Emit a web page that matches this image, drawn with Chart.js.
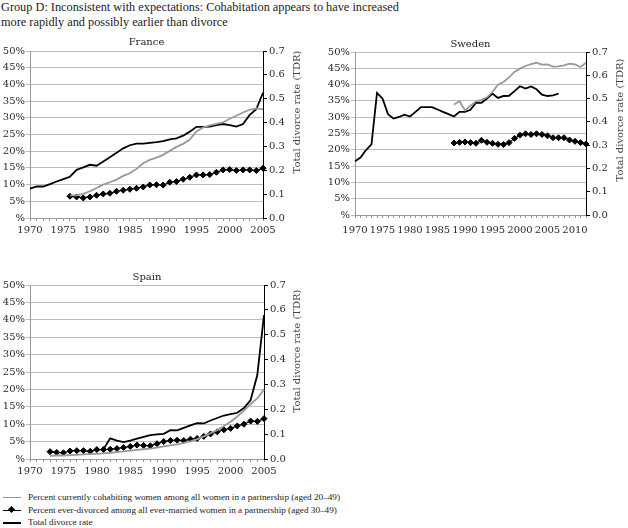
<!DOCTYPE html>
<html>
<head>
<meta charset="utf-8">
<script src="https://cdn.jsdelivr.net/npm/chart.js@4.4.1/dist/chart.umd.min.js"></script>
<style>
  body { margin: 0; background: #fff; width: 628px; height: 528px; position: relative; overflow: hidden; font-family: "Liberation Serif", serif; color: #222; }
  .title { position: absolute; left: 1px; top: 0px; font-size: 12.3px; line-height: 15px; white-space: nowrap; }
  canvas { position: absolute; }
  .legend { position: absolute; left: 2px; top: 491px; font-size: 9.2px; line-height: 12.5px; white-space: nowrap; }
  .legend div { position: relative; padding-left: 26px; }
  .legend i { position: absolute; left: 1px; top: 6px; width: 18px; height: 0; border-top: 1.5px solid #000; }
  .legend i.gray { border-top-color: #999; }
  .legend b { position: absolute; left: 7px; top: 3px; width: 5px; height: 5px; background: #000; transform: rotate(45deg); }
</style>
</head>
<body>
<div class="title">Group D: Inconsistent with expectations: Cohabitation appears to have increased<br>more rapidly and possibly earlier than divorce</div>

<canvas id="france" width="305" height="218" style="left:0;top:30px"></canvas>
<canvas id="sweden" width="318" height="218" style="left:310px;top:30px"></canvas>
<canvas id="spain" width="305" height="218" style="left:0;top:266px"></canvas>

<div class="legend">
  <div><i class="gray"></i>Percent currently cohabiting women among all women in a partnership (aged 20–49)</div>
  <div><i style="border-top-width:1px"></i><b></b>Percent ever-divorced among all ever-married women in a partnership (aged 30–49)</div>
  <div><i style="border-top-width:2px"></i>Total divorce rate</div>
</div>

<script>
// years shown on each x axis
const franceYears = range(1970, 2005);
const swedenYears = range(1970, 2012);
const spainYears = range(1970, 2005);

// France (percent values start at the given year, TDR is per woman)
const franceCohabStart = 1976;
const franceCohab = [6.8, 6.8, 7.2, 8.0, 9.0, 10.0, 10.7, 11.5, 12.6, 13.4, 14.7, 16.4, 17.4, 18.1, 18.9, 20.1, 21.3, 22.2, 23.5, 25.9, 27.1, 27.7, 28.2, 28.6, 29.7, 30.6, 31.6, 32.4, 32.8, 32.5];
const franceDivStart = 1976;
const franceDiv = [6.5, 6.3, 6.0, 6.3, 6.8, 7.2, 7.4, 8.0, 8.3, 8.6, 8.9, 9.3, 9.9, 9.95, 9.85, 10.7, 10.9, 11.6, 12.2, 12.9, 12.9, 13.0, 13.7, 14.4, 14.5, 14.2, 14.4, 14.4, 14.2, 14.9];
const franceTdrStart = 1970;
const franceTdr = [0.123, 0.132, 0.132, 0.142, 0.153, 0.163, 0.173, 0.202, 0.212, 0.223,
                   0.219, 0.237, 0.255, 0.273, 0.292, 0.305, 0.312, 0.312, 0.315, 0.318,
                   0.322, 0.330, 0.334, 0.345, 0.362, 0.382, 0.382, 0.383, 0.389, 0.394,
                   0.389, 0.383, 0.394, 0.432, 0.456, 0.525];

// Sweden
const swedenCohabStart = 1988;
const swedenCohab = [33.9, 34.9, 32.1, 33.5, 34.9, 35.3, 36.1, 37.8, 40.0, 40.8, 42.2, 43.9, 44.9, 45.7, 46.3, 46.7, 46.1, 46.2, 45.5, 45.6, 45.9, 46.4, 46.2, 45.4, 46.7];
const swedenDivStart = 1988;
const swedenDiv = [22.1, 22.3, 22.4, 22.2, 22.0, 22.9, 22.3, 22.0, 21.7, 21.6, 22.2, 23.5, 24.5, 24.9, 24.7, 24.9, 24.7, 24.3, 23.7, 23.7, 23.7, 23.0, 22.6, 22.2, 21.8];
const swedenTdrStart = 1970;
const swedenTdr = [0.231, 0.247, 0.279, 0.303, 0.524, 0.500, 0.433, 0.414, 0.421, 0.431,
                   0.423, 0.443, 0.463, 0.463, 0.463, 0.453, 0.443, 0.433, 0.423, 0.443,
                   0.443, 0.452, 0.482, 0.482, 0.500, 0.521, 0.503, 0.511, 0.512, 0.532,
                   0.553, 0.543, 0.552, 0.540, 0.517, 0.511, 0.514, 0.521];

// Spain
const spainCohabStart = 1973;
const spainCohab = [0.9, 1.0, 1.0, 1.1, 1.2, 1.3, 1.4, 1.5, 1.6, 1.8, 2.0, 2.2, 2.4, 2.6, 2.8, 3.0, 3.3, 3.6, 3.9, 4.2, 4.6, 5.1, 5.7, 6.5, 7.4, 8.3, 9.5, 10.7, 12.2, 13.9, 15.8, 17.4, 20.0];
const spainDivStart = 1973;
const spainDiv = [2.1, 1.9, 1.8, 2.3, 2.4, 2.4, 2.2, 2.7, 2.7, 2.8, 3.0, 3.3, 3.6, 4.0, 3.9, 3.8, 4.4, 5.0, 5.3, 5.4, 5.3, 5.7, 5.9, 6.5, 7.2, 7.8, 8.4, 8.8, 9.5, 10.0, 10.9, 10.8, 11.6];
const spainTdrStart = 1981;
const spainTdr = [0.040, 0.083, 0.074, 0.068, 0.074, 0.082, 0.089, 0.096, 0.099, 0.101,
                  0.116, 0.115, 0.125, 0.135, 0.144, 0.143, 0.155, 0.165, 0.175, 0.181,
                  0.186, 0.205, 0.237, 0.338, 0.579];

const pctMax = 50, pctStep = 5;
const tdrMax = 0.7, tdrStep = 0.1;
const yearLabelStep = 5;

function range(a, b) { const out = []; for (let y = a; y <= b; y++) out.push(y); return out; }
function onYears(years, start, values) {
  return years.map(y => (y >= start && y - start < values.length) ? values[y - start] : null);
}

const tickFont = { family: "DejaVu Serif", size: 10 };
const ink = "#2a2a2a";

// panel name above the plot + right axis title read bottom-to-top
const panelText = {
  id: "panelText",
  afterDraw(chart, args, o) {
    const { ctx, chartArea } = chart;
    ctx.save();
    ctx.fillStyle = "#222";
    ctx.font = '10px "DejaVu Serif"';
    ctx.textAlign = "center";
    ctx.textBaseline = "middle";
    ctx.fillText(o.name, (chartArea.left + chartArea.right) / 2, o.nameY);
    ctx.fillStyle = "#444";
    ctx.translate(o.axisX, o.axisY);
    ctx.rotate(-Math.PI / 2);
    ctx.fillText("Total divorce rate (TDR)", 0, 0);
    ctx.restore();
  }
};

function panel(id, name, years, cohab, div, tdr, lay) {
  new Chart(document.getElementById(id), {
    type: "line",
    data: {
      labels: years,
      datasets: [
        { label: "cohabiting", data: cohab, yAxisID: "y", borderColor: "#999", borderWidth: 1.8, pointRadius: 0, tension: 0 },
        { label: "ever-divorced", data: div, yAxisID: "y", borderColor: "#000", backgroundColor: "#000", borderWidth: 1.2, pointStyle: "rectRot", pointRadius: 3, pointBorderWidth: 1, tension: 0 },
        { label: "TDR", data: tdr, yAxisID: "y2", borderColor: "#000", borderWidth: 1.8, pointRadius: 0, tension: 0 },
      ],
    },
    options: {
      responsive: false, animation: false, devicePixelRatio: 1,
      layout: { padding: { top: lay.top, left: 0, right: 0, bottom: 0 } },
      plugins: {
        legend: { display: false }, tooltip: { enabled: false }, title: { display: false },
        panelText: { name, nameY: lay.nameY, axisX: lay.axisX, axisY: lay.axisY },
      },
      scales: {
        x: {
          type: "category", offset: false,
          grid: { drawOnChartArea: false, drawTicks: true, tickLength: 3, color: "#999" },
          border: { color: "#999" },
          ticks: { autoSkip: false, maxRotation: 0, padding: lay.xPad, font: tickFont, color: ink,
                   callback: (v, i) => years[i] % yearLabelStep === 0 ? String(years[i]) : "" },
          afterFit: s => { s.height = lay.xH; },
        },
        y: {
          position: "left", min: 0, max: pctMax,
          grid: { color: "#bdbdbd", tickLength: 4 },
          border: { color: "#999" },
          ticks: { stepSize: pctStep, font: tickFont, color: ink, padding: 1,
                   callback: v => v === 0 ? "%" : v + "%" },
          afterFit: s => { s.width = lay.left; },
        },
        y2: {
          position: "right", min: 0, max: tdrMax,
          grid: { drawOnChartArea: false, tickLength: 4, color: "#000" },
          border: { color: "#000" },
          ticks: { stepSize: tdrStep, font: tickFont, color: ink, padding: 2,
                   callback: v => v.toFixed(1) },
          afterFit: s => { s.width = lay.right; },
        },
      },
    },
    plugins: [panelText],
  });
}

panel("france", "France", franceYears,
  onYears(franceYears, franceCohabStart, franceCohab),
  onYears(franceYears, franceDivStart, franceDiv),
  onYears(franceYears, franceTdrStart, franceTdr),
  { top: 21, left: 30, right: 42, xH: 30, xPad: 3, nameY: 12, axisX: 297, axisY: 82 });

panel("sweden", "Sweden", swedenYears,
  onYears(swedenYears, swedenCohabStart, swedenCohab),
  onYears(swedenYears, swedenDivStart, swedenDiv),
  onYears(swedenYears, swedenTdrStart, swedenTdr),
  { top: 22, left: 45, right: 42, xH: 33, xPad: 6, nameY: 14, axisX: 310, axisY: 90 });

panel("spain", "Spain", spainYears,
  onYears(spainYears, spainCohabStart, spainCohab),
  onYears(spainYears, spainDivStart, spainDiv),
  onYears(spainYears, spainTdrStart, spainTdr),
  { top: 19, left: 30, right: 41, xH: 25, xPad: 3, nameY: 11, axisX: 297, axisY: 85 });
</script>
</body>
</html>
